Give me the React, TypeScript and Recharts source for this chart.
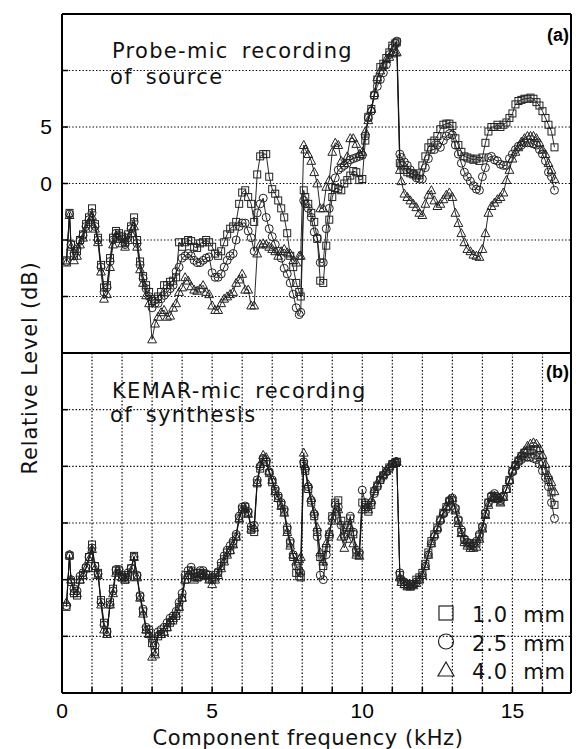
import React from "react";
import { LineChart, Line, XAxis, YAxis, CartesianGrid } from "recharts";

// component frequency, kHz: readings on the even tenths (plus both sides of the jumps)
const freqs = [
  0.15, 0.25, 0.4, 0.6, 0.8, 1.0, 1.2, 1.4, 1.6, 1.8,
  2.0, 2.2, 2.4, 2.6, 2.8, 3.0, 3.2, 3.4, 3.6, 3.8,
  4.0, 4.2, 4.4, 4.6, 4.8, 5.0, 5.2, 5.4, 5.6, 5.8,
  6.0, 6.2, 6.4, 6.6, 6.8, 7.0, 7.2, 7.4, 7.6, 7.8,
  7.95, 8.05, 8.2, 8.4, 8.6, 8.8, 9.0, 9.2, 9.4, 9.6,
  9.8, 10.0, 10.2, 10.4, 10.6, 10.8, 11.0, 11.15, 11.25, 11.4,
  11.6, 11.8, 12.0, 12.2, 12.4, 12.6, 12.8, 13.0, 13.2, 13.4,
  13.6, 13.8, 14.0, 14.2, 14.4, 14.6, 14.8, 15.0, 15.2, 15.4,
  15.6, 15.8, 16.0, 16.2, 16.4,
];
// readings on the odd tenths
const freqsMid = [
  0.3, 0.5, 0.7, 0.9, 1.1, 1.3, 1.5, 1.7, 1.9, 2.1,
  2.3, 2.5, 2.7, 2.9, 3.1, 3.3, 3.5, 3.7, 3.9, 4.1,
  4.3, 4.5, 4.7, 4.9, 5.1, 5.3, 5.5, 5.7, 5.9, 6.1,
  6.3, 6.5, 6.7, 6.9, 7.1, 7.3, 7.5, 7.7, 7.9, 8.1,
  8.3, 8.5, 8.7, 8.9, 9.1, 9.3, 9.5, 9.7, 9.9, 10.1,
  10.3, 10.5, 10.7, 10.9, 11.1, 11.3, 11.5, 11.7, 11.9, 12.1,
  12.3, 12.5, 12.7, 12.9, 13.1, 13.3, 13.5, 13.7, 13.9, 14.1,
  14.3, 14.5, 14.7, 14.9, 15.1, 15.3, 15.5, 15.7, 15.9, 16.1,
  16.3,
];

// (a) probe-mic recording of source, dB  (Sq = 1.0 mm, Ci = 2.5 mm, Tr = 4.0 mm)
const probeSq = [
  -6.8, -2.6, -6.4, -5.0, -3.6, -2.2, -4.8, -9.2, -6.6, -4.2,
  -4.7, -4.5, -3.0, -6.9, -9.0, -10.4, -10.0, -9.0, -8.7, -8.3,
  -5.6, -5.0, -5.6, -5.3, -5.0, -5.6, -6.4, -5.2, -4.0, -3.4,
  -0.8, -1.2, -3.4, 2.4, 2.6, -0.5, -1.5, -3.0, -6.4, -8.8,
  -10.0, -0.6, -1.8, -3.4, -8.6, -5.5, -1.2, -0.5, 0.0, 0.7,
  1.0, 0.4, 5.9, 7.8, 10.3, 11.1, 12.2, 12.5, 1.8, 1.2,
  0.9, 0.7, 1.6, 3.2, 3.8, 4.8, 5.3, 5.1, 3.4, 2.4,
  2.2, 2.2, 2.3, 4.6, 5.0, 5.0, 5.4, 6.2, 7.3, 7.5,
  7.6, 7.2, 6.4, 5.2, 3.2,
];
const probeSqMid = [
  -5.4, -6.0, -4.5, -3.0, -3.6, -7.2, -9.0, -4.8, -4.4, -5.2,
  -3.8, -5.0, -8.2, -9.6, -10.2, -9.6, -9.0, -8.6, -5.2, -5.2,
  -5.1, -5.7, -5.2, -5.2, -6.2, -6.0, -4.5, -3.8, -1.8, -0.6,
  -1.8, 0.8, 2.6, 0.6, -0.9, -2.2, -4.4, -7.4, -9.6, -1.2,
  -2.6, -4.9, -8.8, -3.2, -0.4, -0.6, 0.3, 1.1, 0.3, 3.8,
  6.6, 9.2, 10.6, 11.6, 12.4, 1.6, 1.0, 0.8, 0.9, 2.4,
  3.6, 4.2, 5.2, 5.3, 4.0, 2.8, 2.3, 2.1, 2.0, 3.6,
  5.0, 5.2, 5.2, 5.8, 7.0, 7.4, 7.5, 7.5, 6.9, 5.8,
  4.6,
];
const probeCi = [
  -6.9, -2.7, -6.2, -5.1, -3.8, -2.6, -5.0, -9.6, -6.9, -4.4,
  -4.9, -4.8, -3.4, -7.2, -9.3, -11.0, -10.6, -9.9, -9.3, -7.8,
  -6.6, -6.2, -6.8, -7.0, -6.6, -7.9, -8.3, -7.4, -6.4, -5.0,
  -3.5, -4.2, -6.0, -1.8, -3.0, -4.7, -6.0, -7.5, -8.8, -11.0,
  -11.4, -1.5, -2.2, -4.3, -7.0, -4.0, -0.3, 1.2, 1.6, 2.1,
  2.3, 2.5, 5.8, 7.8, 9.2, 10.5, 12.0, 12.6, 2.6, 1.9,
  1.2, 0.5, 0.4, 2.2, 3.0, 3.2, 4.2, 4.3, 2.6, 1.0,
  0.2, -0.5, 0.6, 2.3, 2.1, 1.7, 1.6, 2.6, 3.3, 3.6,
  3.6, 3.4, 2.6, 1.0, -0.6,
];
const probeCiMid = [
  -5.4, -5.8, -4.6, -3.2, -3.8, -7.4, -9.2, -5.0, -4.6, -5.4,
  -4.0, -5.3, -8.4, -10.0, -10.6, -10.2, -9.6, -9.0, -7.4, -6.4,
  -6.4, -7.0, -6.8, -6.5, -8.3, -8.0, -6.8, -6.2, -3.8, -3.5,
  -4.8, -2.6, -1.3, -4.0, -5.4, -6.6, -8.0, -9.8, -11.6, -1.8,
  -3.0, -4.8, -7.0, -2.2, 0.5, 1.4, 1.8, 2.2, 2.4, 4.2,
  6.4, 8.6, 9.8, 11.4, 12.4, 2.3, 1.6, 0.9, 0.4, 1.4,
  3.0, 3.4, 3.8, 4.4, 3.4, 1.8, 0.6, -0.2, -0.6, 1.4,
  2.4, 2.0, 1.6, 2.2, 3.0, 3.4, 3.6, 3.5, 3.0, 2.0,
  0.6,
];
const probeTr = [
  -7.0, -2.8, -6.8, -5.4, -4.0, -2.9, -5.2, -10.2, -7.4, -4.6,
  -5.3, -5.0, -3.8, -7.6, -9.9, -13.8, -11.8, -11.2, -11.7, -10.6,
  -9.2, -8.6, -9.4, -9.3, -9.6, -10.8, -11.2, -10.2, -9.8, -8.8,
  -8.0, -9.4, -10.8, -5.4, -5.4, -5.8, -6.4, -5.8, -6.2, -7.0,
  -6.4, 3.4, 2.6, 1.0, -2.2, -0.3, 2.8, 3.4, 1.8, 4.0,
  3.5, 2.8, 5.6, 8.0, 10.0, 11.0, 11.5, 11.6, 1.2, -0.9,
  -1.5, -2.1, -2.8, -1.0, -1.5, -1.8, -1.0, -1.2, -3.5, -5.2,
  -6.0, -6.4, -5.8, -2.6, -1.7, -1.2, 0.3, 2.2, 3.2, 4.0,
  4.2, 4.0, 3.0, 1.8, 0.4,
];
const probeTrMid = [
  -5.6, -6.4, -4.8, -3.4, -4.0, -7.8, -9.8, -5.4, -4.9, -5.6,
  -4.4, -5.6, -8.8, -10.6, -12.4, -11.4, -11.8, -11.0, -9.6, -8.3,
  -9.1, -9.5, -9.0, -9.8, -11.2, -10.6, -10.0, -9.6, -8.5, -9.4,
  -10.8, -6.2, -5.3, -5.6, -6.0, -6.0, -6.1, -6.8, -6.4, 3.0,
  2.0, 0.0, -2.2, 0.3, 3.6, 2.0, 2.4, 4.0, 2.6, 4.6,
  6.6, 9.4, 10.5, 11.2, 11.6, 0.2, -1.2, -1.8, -2.6, -1.8,
  -0.6, -2.0, -1.4, -0.8, -2.6, -4.4, -5.8, -6.3, -6.5, -4.4,
  -2.0, -1.4, -0.8, 1.2, 2.8, 3.7, 4.2, 4.2, 3.6, 2.6,
  1.2,
];

// (b) KEMAR-mic recording of synthesis, dB
const kemarSq = [
  -7.4, -2.9, -6.2, -5.0, -4.0, -1.9, -4.4, -8.8, -7.0, -4.2,
  -4.8, -4.6, -2.9, -6.5, -9.4, -10.6, -10.0, -9.6, -8.8, -8.2,
  -6.6, -4.6, -4.8, -4.4, -4.6, -5.0, -4.4, -3.2, -2.4, -1.2,
  1.2, 0.9, -0.8, 4.8, 5.4, 3.6, 2.2, 1.0, -1.8, -4.4,
  -4.8, 5.2, 3.0, 0.6, -3.0, -2.2, 0.6, 2.0, -1.0, 0.4,
  -2.6, 1.8, 1.0, 2.8, 3.8, 4.6, 5.2, 5.4, -4.6, -5.4,
  -5.6, -5.0, -4.4, -2.6, -1.0, 0.3, 1.4, 2.0, 0.2, -1.5,
  -2.0, -1.8, -0.4, 1.8, 2.4, 1.9, 3.0, 4.6, 5.5, 6.2,
  6.4, 6.4, 5.4, 3.8, 1.6,
];
const kemarSqMid = [
  -5.2, -6.4, -4.6, -3.0, -3.8, -6.8, -9.6, -5.8, -4.2, -5.0,
  -4.0, -4.7, -7.8, -9.7, -11.4, -9.8, -9.2, -8.6, -7.4, -5.0,
  -4.2, -4.8, -4.4, -4.9, -4.8, -3.8, -2.6, -1.8, 0.4, 1.4,
  -0.6, 3.5, 5.6, 4.4, 2.8, 1.6, -0.6, -3.0, -4.7, 4.6,
  1.8, -0.8, -3.8, -1.0, 1.8, 0.2, -0.4, -1.0, -2.8, 1.6,
  1.6, 3.3, 4.2, 4.9, 5.3, -5.2, -5.5, -5.4, -4.8, -3.6,
  -1.6, -0.4, 0.9, 1.9, 1.2, -0.8, -1.8, -2.0, -1.2, 0.8,
  2.3, 2.2, 2.3, 3.8, 5.1, 5.9, 6.3, 6.5, 6.0, 4.6,
  2.7,
];
const kemarCi = [
  -7.3, -2.8, -5.8, -4.7, -3.9, -2.2, -4.5, -9.0, -7.2, -4.1,
  -4.6, -4.4, -3.0, -6.4, -9.2, -10.2, -9.6, -9.2, -8.4, -7.8,
  -6.2, -4.2, -4.4, -4.2, -4.5, -4.8, -4.3, -2.9, -2.0, -1.0,
  1.4, 1.0, -0.2, 5.0, 5.4, 3.8, 2.4, 1.2, -1.6, -3.8,
  -4.4, 5.4, 3.2, 0.8, -4.6, -2.8, 0.4, 1.4, -1.2, 0.6,
  -2.4, 2.9, 1.4, 2.6, 3.8, 4.5, 5.2, 5.4, -4.4, -5.2,
  -5.4, -5.2, -4.6, -2.8, -1.2, 0.2, 1.2, 2.2, 0.3, -1.4,
  -1.8, -1.6, -0.3, 1.8, 2.6, 2.0, 3.0, 4.5, 5.4, 5.8,
  5.8, 5.6, 4.6, 3.2, 0.4,
];
const kemarCiMid = [
  -5.0, -6.0, -4.4, -3.0, -3.8, -7.0, -9.6, -6.0, -4.1, -4.8,
  -4.0, -4.6, -7.6, -9.4, -10.8, -9.4, -8.8, -8.2, -7.0, -4.6,
  -3.9, -4.4, -4.2, -4.6, -4.6, -3.5, -2.4, -1.6, 0.6, 1.5,
  -0.3, 3.8, 5.7, 4.5, 3.0, 1.8, -0.4, -2.8, -4.2, 4.8,
  2.0, -1.2, -5.0, -1.2, 1.6, -0.2, -0.2, -0.8, -2.6, 1.8,
  1.8, 3.2, 4.2, 4.8, 5.3, -5.0, -5.4, -5.4, -5.0, -3.8,
  -1.8, -0.6, 0.8, 2.0, 1.3, -0.6, -1.7, -1.8, -1.0, 0.9,
  2.4, 2.3, 2.4, 3.7, 5.0, 5.6, 5.8, 5.7, 5.2, 4.0,
  1.8,
];
const kemarTr = [
  -7.0, -2.8, -6.0, -5.0, -4.0, -2.3, -4.6, -9.4, -7.2, -4.4,
  -4.8, -4.8, -3.0, -6.6, -9.4, -11.8, -9.8, -9.6, -8.6, -8.0,
  -6.6, -4.6, -5.0, -4.5, -4.7, -5.4, -4.6, -3.4, -2.4, -1.2,
  1.2, 0.8, -0.4, 5.2, 5.8, 3.8, 2.2, 0.9, -2.0, -3.4,
  -3.0, 6.2, 3.4, 1.0, -2.6, -1.8, 0.2, 1.2, -2.2, -0.4,
  -2.8, 1.2, 1.2, 3.0, 4.0, 4.6, 5.3, 5.4, -4.8, -5.4,
  -5.6, -5.3, -4.6, -2.8, -1.0, 0.4, 1.5, 2.2, 0.0, -1.7,
  -2.2, -2.1, -0.5, 1.6, 2.4, 1.8, 3.0, 4.7, 5.7, 6.4,
  7.0, 7.0, 6.0, 4.2, 2.8,
];
const kemarTrMid = [
  -5.0, -6.2, -4.6, -3.2, -4.0, -7.2, -9.8, -6.2, -4.3, -5.0,
  -4.2, -4.8, -8.0, -9.8, -11.6, -9.8, -9.2, -8.4, -7.4, -5.0,
  -4.2, -4.8, -4.6, -5.0, -5.0, -4.0, -2.8, -1.9, 0.4, 1.3,
  -0.5, 3.6, 6.0, 4.6, 2.8, 1.5, -0.8, -2.8, -3.2, 5.0,
  2.2, -0.4, -3.4, -0.8, 1.0, -1.2, -1.4, -1.8, -2.9, 1.4,
  2.0, 3.5, 4.3, 5.0, 5.4, -5.2, -5.6, -5.5, -5.0, -3.8,
  -1.8, -0.4, 1.0, 2.1, 1.1, -0.9, -2.0, -2.2, -1.4, 0.7,
  2.2, 2.1, 2.3, 3.8, 5.2, 6.1, 6.8, 7.1, 6.6, 5.2,
  3.6,
];

const xTicks = [0, 1, 2, 3, 4, 5, 6, 7, 8, 9, 10, 11, 12, 13, 14, 15, 16];
const xLabels = [0, 5, 10, 15];
const yTicks = [-15, -10, -5, 0, 5, 10, 15];
const yLabelsA = [0, 5];
const legendLabels = ["1.0 mm", "2.5 mm", "4.0 mm"];

const X_MAX = 16.95;
const INK = "#000";
const MARK = "#222";
const HERSHEY = "'DejaVu Sans', sans-serif";
const HELV = "'Liberation Sans', Arial, sans-serif";

const buildRows = (s: number[], c: number[], t: number[], sm: number[], cm: number[], tm: number[]) =>
  [
    ...freqs.map((f, i) => ({ f, s: s[i], c: c[i], t: t[i] })),
    ...freqsMid.map((f, i) => ({ f, s: sm[i], c: cm[i], t: tm[i] })),
  ].sort((p, q) => p.f - q.f);

const rowsA = buildRows(probeSq, probeCi, probeTr, probeSqMid, probeCiMid, probeTrMid);
const rowsB = buildRows(kemarSq, kemarCi, kemarTr, kemarSqMid, kemarCiMid, kemarTrMid);

// marker shapes
const square = (p: any) => {
  const { cx, cy, index } = p;
  if (cx == null || cy == null) return <g key={`s${index}`} />;
  return <rect key={`s${index}`} x={cx - 3.5} y={cy - 3.5} width={7} height={7} fill="none" stroke={MARK} strokeWidth={1} />;
};
const circle = (p: any) => {
  const { cx, cy, index } = p;
  if (cx == null || cy == null) return <g key={`c${index}`} />;
  return <circle key={`c${index}`} cx={cx} cy={cy} r={4} fill="none" stroke={MARK} strokeWidth={1} />;
};
const triangle = (p: any) => {
  const { cx, cy, index } = p;
  if (cx == null || cy == null) return <g key={`t${index}`} />;
  return (
    <path
      key={`t${index}`}
      d={`M${cx},${cy - 4.6} L${cx + 4.4},${cy + 3.4} L${cx - 4.4},${cy + 3.4} Z`}
      fill="none"
      stroke={MARK}
      strokeWidth={1}
    />
  );
};

const axisLine = { stroke: INK, strokeWidth: 2 };
const tickLine = { stroke: INK, strokeWidth: 1.5 };
const tickText = { fontFamily: HELV, fontSize: 21, fill: INK };

type PanelProps = {
  rows: any[];
  top: number;
  height: number;
  topH: number;
  bottomH: number;
  showX: boolean;
  yLabels: number[];
};

function Panel({ rows, top, height, topH, bottomH, showX, yLabels }: PanelProps) {
  return (
    <div style={{ position: "absolute", left: 0, top }}>
      <LineChart width={576} height={height} data={rows} margin={{ top: 0, right: 0, bottom: 0, left: 0 }}>
        <CartesianGrid stroke={INK} strokeWidth={1.2} strokeDasharray="1.4 2" />
        <XAxis
          xAxisId="top"
          orientation="top"
          type="number"
          dataKey="f"
          domain={[0, X_MAX]}
          ticks={xTicks}
          interval={0}
          tick={false}
          tickSize={-6}
          height={topH}
          axisLine={axisLine}
          tickLine={tickLine}
        />
        <XAxis
          type="number"
          dataKey="f"
          domain={[0, X_MAX]}
          ticks={xTicks}
          interval={0}
          tick={showX ? tickText : false}
          tickFormatter={(v: number) => (xLabels.includes(v) ? String(v) : "")}
          tickSize={-6}
          tickMargin={16}
          height={bottomH}
          axisLine={axisLine}
          tickLine={tickLine}
        />
        <YAxis
          type="number"
          domain={[-15, 15]}
          ticks={yTicks}
          interval={0}
          width={62}
          tick={tickText}
          tickFormatter={(v: number) => (yLabels.includes(v) ? String(v) : "")}
          tickSize={-6}
          tickMargin={16}
          axisLine={axisLine}
          tickLine={tickLine}
        />
        <YAxis
          yAxisId="r"
          orientation="right"
          type="number"
          domain={[-15, 15]}
          ticks={yTicks}
          interval={0}
          width={5}
          tick={false}
          tickSize={-6}
          axisLine={axisLine}
          tickLine={tickLine}
        />
        <Line type="linear" dataKey="s" stroke="#111" strokeWidth={0.9} dot={square} activeDot={false} isAnimationActive={false} />
        <Line type="linear" dataKey="c" stroke="#111" strokeWidth={0.9} dot={circle} activeDot={false} isAnimationActive={false} />
        <Line type="linear" dataKey="t" stroke="#111" strokeWidth={0.9} dot={triangle} activeDot={false} isAnimationActive={false} />
      </LineChart>
    </div>
  );
}

function LegendSymbol({ i, x, y }: { i: number; x: number; y: number }) {
  if (i === 0) return <rect x={x - 7} y={y - 7} width={14} height={14} fill="none" stroke={MARK} strokeWidth={1.2} />;
  if (i === 1) return <circle cx={x} cy={y} r={7.5} fill="none" stroke={MARK} strokeWidth={1.2} />;
  return <path d={`M${x},${y - 8} L${x + 8},${y + 6} L${x - 8},${y + 6} Z`} fill="none" stroke={MARK} strokeWidth={1.2} />;
}

export default function App() {
  const note = { fontFamily: HERSHEY, fontSize: 21, fill: "#111", letterSpacing: 1.3, wordSpacing: 5 } as const;
  return (
    <div style={{ position: "absolute", left: 0, top: 0, width: 576, height: 749, background: "#fff", overflow: "hidden" }}>
      <Panel rows={rowsA} top={0} height={354} topH={14} bottomH={1} showX={false} yLabels={yLabelsA} />
      <Panel rows={rowsB} top={352} height={396} topH={1} bottomH={55} showX={true} yLabels={[]} />

      <svg width={576} height={749} style={{ position: "absolute", left: 0, top: 0, pointerEvents: "none" }}>
        <text x={112} y={58} {...note}>Probe-mic recording</text>
        <text x={110} y={84} {...note}>of source</text>
        <text x={112} y={398} {...note}>KEMAR-mic recording</text>
        <text x={110} y={422} {...note}>of synthesis</text>

        <text x={569} y={41} textAnchor="end" fontFamily={HELV} fontWeight="bold" fontSize={18} fill={INK}>(a)</text>
        <text x={569} y={378} textAnchor="end" fontFamily={HELV} fontWeight="bold" fontSize={18} fill={INK}>(b)</text>

        <text
          transform="translate(37,368) rotate(-90)"
          textAnchor="middle"
          fontFamily={HERSHEY}
          fontSize={21}
          letterSpacing={0.8}
          fill="#111"
        >
          Relative Level (dB)
        </text>
        <text x={308} y={745} textAnchor="middle" fontFamily={HERSHEY} fontSize={21} letterSpacing={0.6} fill="#111">
          Component frequency (kHz)
        </text>

        {legendLabels.map((lab, i) => (
          <g key={lab}>
            <LegendSymbol i={i} x={446} y={613 + i * 28.5} />
            <text x={472} y={622 + i * 28.5} fontFamily={HERSHEY} fontSize={21} letterSpacing={0.8} wordSpacing={8} fill="#111">
              {lab}
            </text>
          </g>
        ))}
      </svg>
    </div>
  );
}
